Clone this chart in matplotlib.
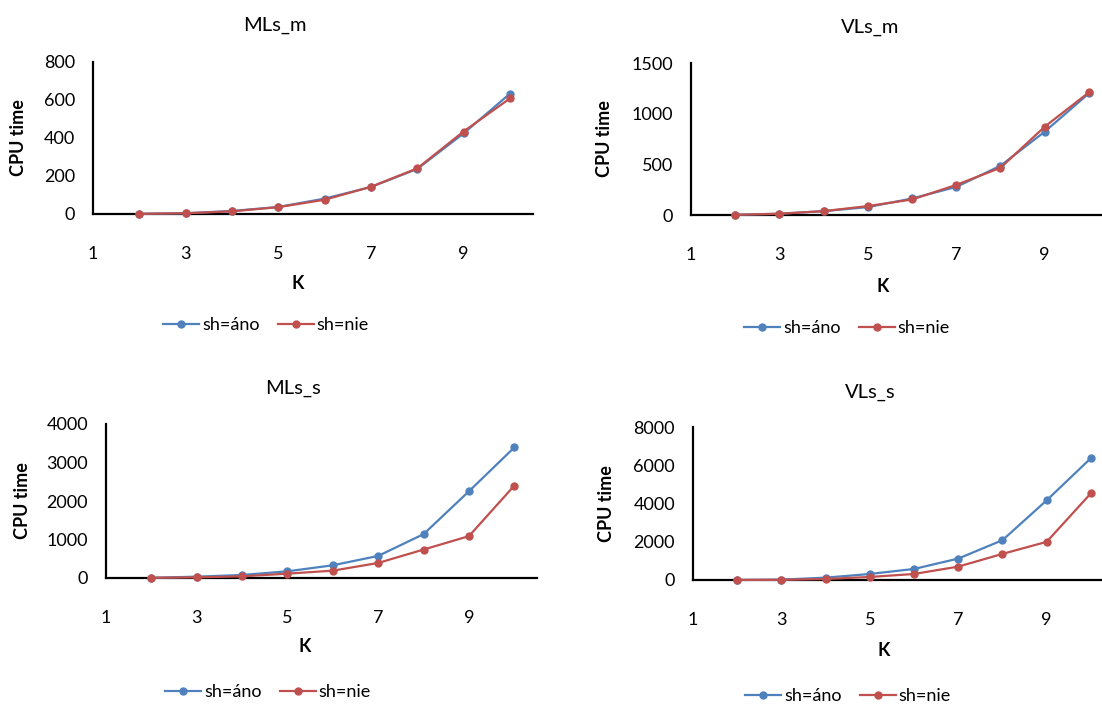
import matplotlib
matplotlib.use('Agg')
import matplotlib.pyplot as plt

plt.rcParams['font.family'] = ['Lato', 'DejaVu Sans']

k = [2, 3, 4, 5, 6, 7, 8, 9, 10]

mls_m_ano = [1, 4, 16, 37, 81, 142, 237, 424, 633]
mls_m_nie = [1, 4, 14, 36, 75, 143, 240, 434, 608]
vls_m_ano = [2, 13, 38, 78, 163, 277, 486, 822, 1200]
vls_m_nie = [2, 12, 38, 88, 153, 297, 466, 871, 1210]
mls_s_ano = [5, 35, 78, 174, 330, 574, 1139, 2252, 3391]
mls_s_nie = [5, 17, 43, 113, 191, 391, 739, 1087, 2400]
vls_s_ano = [3, 20, 123, 315, 578, 1120, 2083, 4166, 6372]
vls_s_nie = [3, 10, 53, 158, 315, 700, 1365, 1996, 4534]

titles = ['MLs_m', 'VLs_m', 'MLs_s', 'VLs_s']
series = [(mls_m_ano, mls_m_nie), (vls_m_ano, vls_m_nie),
          (mls_s_ano, mls_s_nie), (vls_s_ano, vls_s_nie)]
y_max = [800, 1500, 4000, 8000]
y_step = [200, 500, 1000, 2000]
labels = ['sh=áno', 'sh=nie']
colors = ['#4F81BD', '#C0504D']

W, H = 1102, 704
fig = plt.figure(figsize=(W / 100, H / 100), dpi=100)

# axes boxes in pixels: left, right, top, bottom
boxes = [(93, 533, 62, 214), (691, 1111, 63, 215),
         (106, 537, 424, 578), (693, 1113, 427, 580)]
# title, K label, legend, y label positions (pixels)
title_pos = [(275, 25), (870, 27), (293, 388), (870, 392)]
xlab_pos = [(298, 284), (883, 286), (305, 647), (884, 650)]
leg_pos = [(266, 325), (847, 328), (268, 692), (848, 696)]
ylab_x = [19, 605, 22, 606]


def fx(px):
    return px / W


def fy(py):
    return 1 - py / H


for i in range(4):
    l, r, t, b = boxes[i]
    ax = fig.add_axes([fx(l), fy(b), (r - l) / W, (b - t) / H])
    for j in range(2):
        ax.plot(k, series[i][j], color=colors[j], lw=1.6, marker='o',
                markersize=5, label=labels[j], clip_on=False, zorder=3 + j)
    ax.set_xlim(1, 10.5)
    ax.set_ylim(0, y_max[i])
    ax.set_xticks([1, 3, 5, 7, 9])
    ax.set_yticks(range(0, y_max[i] + 1, y_step[i]))
    ax.tick_params(length=0, labelsize=13)
    ax.tick_params(axis='x', pad=23)
    ax.tick_params(axis='y', pad=13)
    for s in ['top', 'right']:
        ax.spines[s].set_visible(False)
    for s in ['left', 'bottom']:
        ax.spines[s].set_linewidth(1.6)
        ax.spines[s].set_zorder(2)
    fig.text(fx(title_pos[i][0]), fy(title_pos[i][1]), titles[i],
             ha='center', va='center', fontsize=14.5)
    fig.text(fx(xlab_pos[i][0]), fy(xlab_pos[i][1]), 'K',
             ha='center', va='center', fontsize=13, fontweight='bold')
    fig.text(fx(ylab_x[i]), (fy(t) + fy(b)) / 2, 'CPU time', rotation=90,
             ha='center', va='center', fontsize=13, fontweight='bold')
    ax.legend(loc='center', bbox_to_anchor=(fx(leg_pos[i][0]), fy(leg_pos[i][1])),
              bbox_transform=fig.transFigure, ncol=2, frameon=False,
              fontsize=13, handlelength=2.0, handletextpad=0.15,
              columnspacing=1.0)

fig.savefig('out.png', dpi=100)
